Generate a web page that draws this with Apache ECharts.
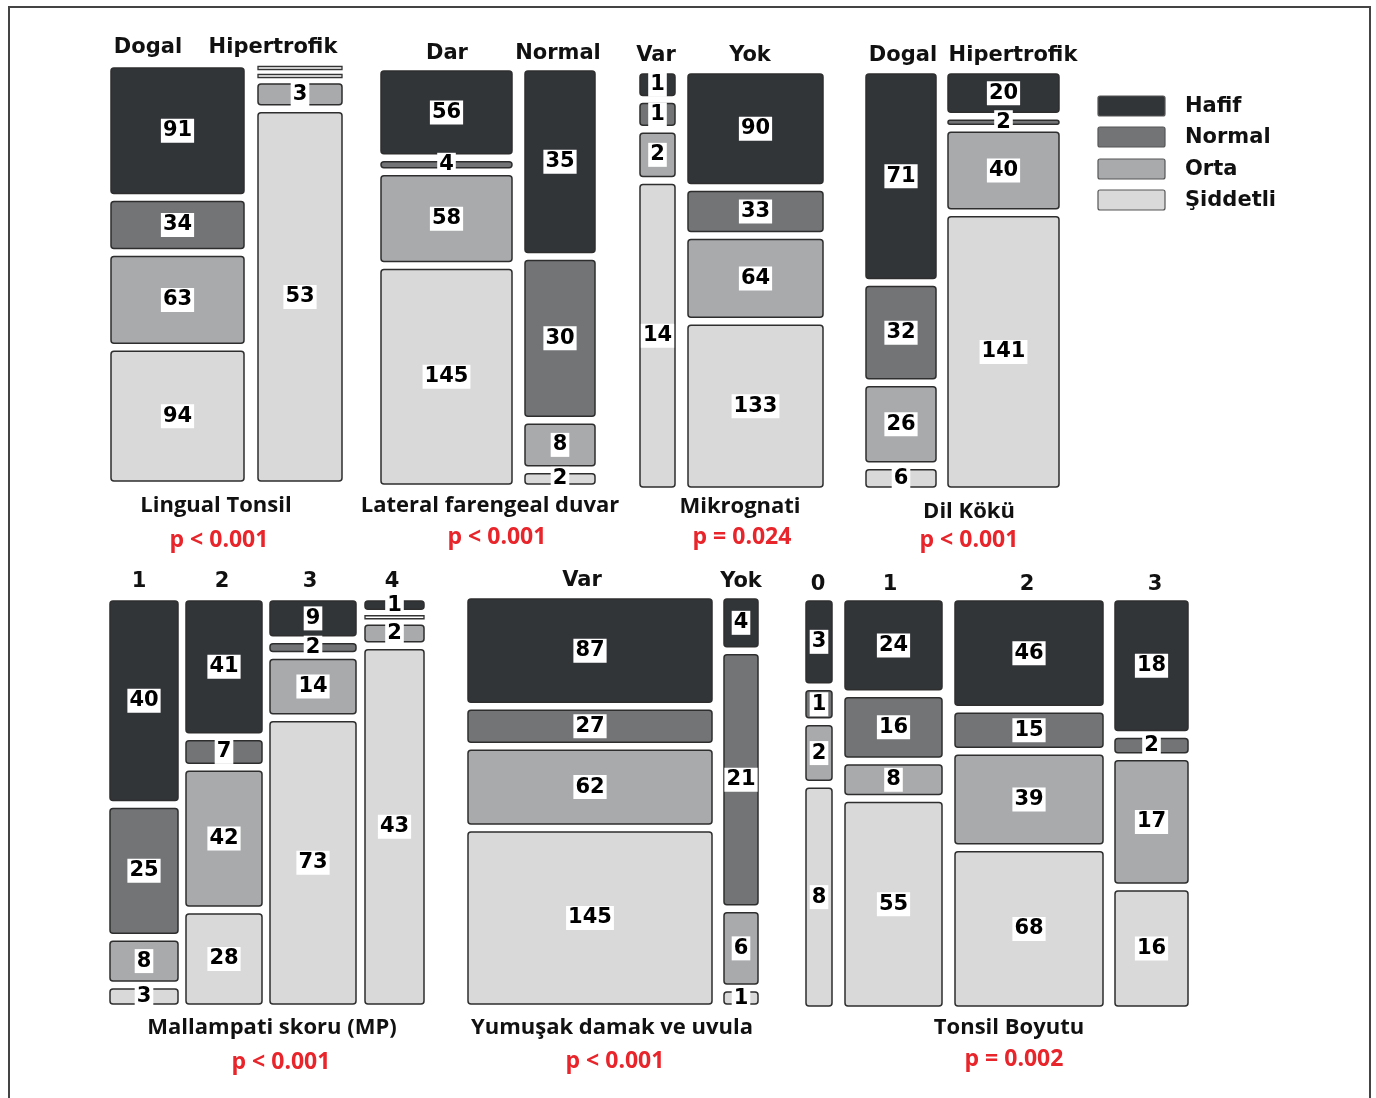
<!DOCTYPE html>
<html>
<head>
<meta charset="utf-8">
<script src="https://cdn.jsdelivr.net/npm/echarts@6/dist/echarts.min.js"></script>
<style>
  html, body { margin: 0; padding: 0; background: #fff; }
  #chart { width: 1376px; height: 1098px; }
</style>
</head>
<body>
<div id="chart"></div>
<script>
/* -------------------------------------------------------------------------- */
/*                      Mosaic plots - severity by finding                    */
/* -------------------------------------------------------------------------- */
var severity = ['Hafif', 'Normal', 'Orta', 'Şiddetli'];
var severityColors = ['#323538', '#727476', '#a8aaac', '#d9d9d9'];

var panelTitles = ['Lingual Tonsil', 'Lateral farengeal duvar', 'Mikrognati', 'Dil Kökü',
  'Mallampati skoru (MP)', 'Yumuşak damak ve uvula', 'Tonsil Boyutu'];
var pValues = ['p < 0.001', 'p < 0.001', 'p = 0.024', 'p < 0.001',
  'p < 0.001', 'p < 0.001', 'p = 0.002'];

var lingualGroups = ['Dogal', 'Hipertrofik'];
var lingualValues = [[91, 34, 63, 94], [0, 0, 3, 53]];

var lateralGroups = ['Dar', 'Normal'];
var lateralValues = [[56, 4, 58, 145], [35, 30, 8, 2]];

var mikroGroups = ['Var', 'Yok'];
var mikroValues = [[1, 1, 2, 14], [90, 33, 64, 133]];

var dilGroups = ['Dogal', 'Hipertrofik'];
var dilValues = [[71, 32, 26, 6], [20, 2, 40, 141]];

var mallGroups = ['1', '2', '3', '4'];
var mallValues = [[40, 25, 8, 3], [41, 7, 42, 28], [9, 2, 14, 73], [1, 0, 2, 43]];

var uvulaGroups = ['Var', 'Yok'];
var uvulaValues = [[87, 27, 62, 145], [4, 21, 6, 1]];

var tonsilGroups = ['0', '1', '2', '3'];
var tonsilValues = [[3, 1, 2, 8], [24, 16, 8, 55], [46, 15, 39, 68], [18, 2, 17, 16]];

// layout of each panel (pixels): column spans, top/bottom, header and title spots
var panels = [
  { groups: lingualGroups, values: lingualValues, cols: [[111, 244], [258, 342]], top: 68, bottom: 481,
    heads: [[148, 46], [273, 46]], title: [216, 506], p: [219, 540] },
  { groups: lateralGroups, values: lateralValues, cols: [[381, 512], [525, 595]], top: 71, bottom: 484,
    heads: [[447, 52], [558, 52]], title: [490, 506], p: [497, 537] },
  { groups: mikroGroups, values: mikroValues, cols: [[640, 675], [688, 823]], top: 74, bottom: 487,
    heads: [[656, 54], [750, 54]], title: [740, 507], p: [742, 537] },
  { groups: dilGroups, values: dilValues, cols: [[866, 936], [948, 1059]], top: 74, bottom: 487,
    heads: [[903, 54], [1013, 54]], title: [969, 512], p: [969, 540] },
  { groups: mallGroups, values: mallValues, cols: [[110, 178], [186, 262], [270, 356], [365, 424]], top: 601, bottom: 1004,
    heads: [[139, 580], [222, 580], [310, 580], [392, 580]], title: [272, 1028], p: [281, 1062] },
  { groups: uvulaGroups, values: uvulaValues, cols: [[468, 712], [724, 758]], top: 599, bottom: 1004,
    heads: [[582, 579], [741, 580]], title: [612, 1028], p: [615, 1061] },
  { groups: tonsilGroups, values: tonsilValues, cols: [[806, 832], [845, 942], [955, 1103], [1115, 1188]], top: 601, bottom: 1006,
    heads: [[818, 583], [890, 583], [1027, 583], [1155, 583]], title: [1009, 1028], p: [1014, 1059] }
];

var GAP = 8;
var numFont = 'bold 21px "DejaVu Sans"';
var headFont = 'bold 21px "DejaVu Sans"';
var titleFont = 'bold 22px "Open Sans"';
var pFont = 'bold 23px "Open Sans"';

var chartDom = document.getElementById('chart');
var myChart = echarts.init(chartDom);

var grids = [], xAxes = [], yAxes = [], series = [], graphics = [];

var renderSegment = function (params, api) {
  var i = api.value(0);
  var v = api.value(3);
  var p0 = api.coord([0, api.value(1)]);
  var p1 = api.coord([1, api.value(2)]);
  var off = i * GAP;
  var x = p0[0];
  var w = p1[0] - p0[0];
  var y0 = p0[1] + off;
  var y1 = p1[1] + off;
  var children = [];
  if (v === 0) {
    children.push({
      type: 'rect',
      shape: { x: x, y: y0 - 1.5, width: w, height: 3 },
      style: { fill: '#fff', stroke: '#333', lineWidth: 1.3 }
    });
  } else {
    children.push({
      type: 'rect',
      shape: { x: x, y: y0, width: w, height: y1 - y0, r: 3 },
      style: { fill: severityColors[i], stroke: '#2e2e2e', lineWidth: 1.5 }
    });
    children.push({
      type: 'text',
      style: {
        text: String(v),
        x: x + w / 2,
        y: (y0 + y1) / 2,
        align: 'center',
        verticalAlign: 'middle',
        font: numFont,
        fill: '#000',
        backgroundColor: '#fff',
        padding: [2, 2, 1, 2]
      }
    });
  }
  return { type: 'group', children: children };
};

panels.forEach(function (panel) {
  panel.values.forEach(function (col, c) {
    var g = grids.length;
    var total = col.reduce(function (a, b) { return a + b; }, 0);
    var span = panel.cols[c];
    grids.push({
      left: span[0],
      width: span[1] - span[0],
      top: panel.top,
      height: (panel.bottom - panel.top) - (col.length - 1) * GAP
    });
    xAxes.push({ gridIndex: g, type: 'value', min: 0, max: 1, show: false });
    yAxes.push({ gridIndex: g, type: 'value', min: 0, max: total, inverse: true, show: false });

    var data = [];
    var cum = 0;
    col.forEach(function (v, i) {
      data.push([i, cum, cum + v, v]);
      cum += v;
    });
    series.push({
      type: 'custom',
      xAxisIndex: g,
      yAxisIndex: g,
      data: data,
      clip: false,
      silent: true,
      renderItem: renderSegment
    });

    graphics.push({
      type: 'text',
      x: panel.heads[c][0],
      y: panel.heads[c][1] + 2,
      style: {
        text: panel.groups[c], font: headFont, fill: '#111',
        align: 'center', verticalAlign: 'middle'
      }
    });
  });
});

panels.forEach(function (panel, k) {
  graphics.push({
    type: 'text', x: panel.title[0], y: panel.title[1],
    style: { text: panelTitles[k], font: titleFont, fill: '#111', align: 'center', verticalAlign: 'middle' }
  });
  graphics.push({
    type: 'text', x: panel.p[0], y: panel.p[1],
    style: { text: pValues[k], font: pFont, fill: '#e8252b', align: 'center', verticalAlign: 'middle' }
  });
});

// legend
var legendTops = [96, 127, 159, 190];
severity.forEach(function (name, i) {
  graphics.push({
    type: 'rect',
    shape: { x: 1098, y: legendTops[i], width: 67, height: 20, r: 2 },
    style: { fill: severityColors[i], stroke: '#555', lineWidth: 1.2 }
  });
  graphics.push({
    type: 'text', x: 1185, y: legendTops[i] + 11,
    style: { text: name, font: 'bold 21px "DejaVu Sans"', fill: '#111', align: 'left', verticalAlign: 'middle' }
  });
});

// outer frame
graphics.push({
  type: 'rect',
  shape: { x: 9, y: 7, width: 1361, height: 1110 },
  style: { fill: 'none', stroke: '#444', lineWidth: 2 }
});

var option = {
  animation: false,
  grid: grids,
  xAxis: xAxes,
  yAxis: yAxes,
  series: series,
  graphic: { elements: graphics }
};

option && myChart.setOption(option);
</script>
</body>
</html>
